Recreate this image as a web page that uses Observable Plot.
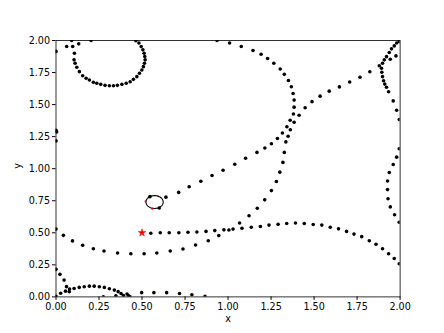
<!DOCTYPE html>
<html>
<head>
<meta charset="utf-8">
<script src="https://cdn.jsdelivr.net/npm/d3@7"></script>
<script src="https://cdn.jsdelivr.net/npm/@observablehq/plot@0.6"></script>
<style>
  html, body { margin: 0; padding: 0; background: #fff; }
  #chart svg { display: block; }
</style>
</head>
<body>
<div id="chart"></div>
<script>
// ---- data ----
const tickValues = [0, 0.25, 0.5, 0.75, 1.0, 1.25, 1.5, 1.75, 2.0];
const xLabel = "x";
const yLabel = "y";

// top-left loop
const loopX = [0.107,0.105,0.111,0.121,0.136,0.155,0.175,0.194,0.217,0.237,0.260,0.285,0.310,0.334,0.357,0.383,0.408,0.431,0.450,0.470,0.485,0.499,0.508,0.514,0.518,0.516,0.512,0.505,0.495,0.482,0.464];
const loopY = [1.901,1.849,1.823,1.791,1.757,1.725,1.705,1.692,1.674,1.666,1.658,1.650,1.647,1.647,1.650,1.658,1.666,1.678,1.697,1.718,1.744,1.770,1.796,1.823,1.849,1.875,1.901,1.927,1.953,1.980,1.998];

// scattered points near the top-left and left edge
const edgeX = [0,0.062,0.097,0.132,0.091,0.204,0,0.004,0];
const edgeY = [1.915,1.953,1.953,1.974,2.0,2.0,1.300,1.286,1.217];

// big arc (right side) continuing to the lower curve
const arcX = [0.936,1.009,1.077,1.145,1.192,1.230,1.266,1.303,1.327,1.351,1.368,1.378,1.384,1.384,1.380,1.384,1.362,1.349,1.336,1.327,1.319,1.301,1.281,1.252,1.213,1.170,1.122,1.067,1.005,0.946,0.885,0.811,0.738,0.664,0.586,0.512,0.435,0.358,0.279,0.217,0.155,0.096,0.043,0];
const arcY = [2.000,1.980,1.953,1.922,1.893,1.860,1.823,1.778,1.736,1.688,1.639,1.587,1.535,1.480,1.427,1.362,1.304,1.253,1.209,1.127,1.049,0.973,0.900,0.829,0.757,0.692,0.633,0.576,0.522,0.478,0.438,0.405,0.374,0.358,0.343,0.336,0.337,0.343,0.358,0.376,0.402,0.437,0.480,0.529];

// diagonal from the small circle to the upper right
const diagX = [0.546,0.600,0.639,0.713,0.774,0.842,0.907,0.971,1.039,1.102,1.168,1.214,1.252,1.287,1.316,1.342,1.361,1.413,1.448,1.488,1.535,1.588,1.647,1.707,1.767,1.824,1.879];
const diagY = [0.782,0.693,0.778,0.815,0.859,0.902,0.947,0.988,1.035,1.082,1.127,1.161,1.195,1.235,1.278,1.327,1.378,1.417,1.476,1.523,1.566,1.605,1.638,1.676,1.713,1.756,1.803];

// line starting at the star going right
const midX = [0.551,0.606,0.658,0.714,0.767,0.819,0.872,0.923,0.976,1.029,1.081,1.135,1.188,1.238,1.291,1.341,1.392,1.443,1.495,1.545,1.594,1.642,1.689,1.732,1.777,1.821,1.860,1.898,1.933,1.966,1.995];
const midY = [0.497,0.500,0.500,0.500,0.504,0.506,0.511,0.517,0.523,0.529,0.536,0.543,0.549,0.560,0.566,0.572,0.576,0.572,0.565,0.560,0.543,0.531,0.511,0.490,0.470,0.438,0.411,0.376,0.337,0.300,0.259];

// right edge curves
const rightX = [1.995,1.980,1.966,1.950,1.937,1.921,1.908,1.898,1.892,1.894,1.898,1.904,1.911,1.921,1.933,1.960,1.980,1.995,1.943,1.976,1.995,1.980,1.960,1.937,1.927,1.927,1.930,1.943,1.968,1.995];
const rightY = [1.992,1.980,1.958,1.935,1.906,1.874,1.849,1.823,1.784,1.752,1.718,1.686,1.660,1.635,1.600,1.529,1.456,1.384,1.854,1.880,1.156,1.090,1.033,0.970,0.904,0.837,0.766,0.702,0.641,0.582];

// bottom-left hump and bottom row
const bottomX = [0,0.023,0.047,0.061,0.077,0,0.027,0.055,0.079,0.105,0.135,0.164,0.194,0.222,0.252,0.281,0.310,0.339,0.361,0.378,0.392,0.413,0.422,0.431,0.348,0.275,0.498,0.569,0.643,0.718,0.790,0.866];
const bottomY = [0.215,0.176,0.131,0.080,0.041,0.005,0.029,0.045,0.062,0.066,0.074,0.079,0.084,0.084,0.079,0.074,0.064,0.053,0.041,0.027,0.011,0.023,0.009,0,0.009,0,0.033,0.033,0.033,0.027,0.017,0.005];

// red points on the small circle, the star, and the circle itself
const redX = [0.521, 0.559];
const redY = [0.745, 0.688];
const starX = [0.5];
const starY = [0.5];
const circleCenter = [0.573, 0.740];
const circleRadius = 0.05;

// ---- build tables ----
const groups = [[loopX, loopY],[edgeX, edgeY],[arcX, arcY],[diagX, diagY],[midX, midY],[rightX, rightY],[bottomX, bottomY]];
const blackPts = groups.flatMap(([xs, ys]) => xs.map((x, i) => ({x, y: ys[i]})));
const redPts = redX.map((x, i) => ({x, y: redY[i]}));
const starPts = starX.map((x, i) => ({x, y: starY[i]}));
const ring = d3.range(0, 65).map(k => {
  const a = (k / 64) * 2 * Math.PI;
  return {x: circleCenter[0] + circleRadius * Math.cos(a), y: circleCenter[1] + circleRadius * Math.sin(a)};
});

const fmt = d3.format(".2f");
const chart = Plot.plot({
  width: 444,
  height: 333,
  marginLeft: 55.5,
  marginRight: 44.4,
  marginTop: 40,
  marginBottom: 36.6,
  style: {fontFamily: "DejaVu Sans, sans-serif", fontSize: "9.6px", color: "black", background: "white"},
  x: {domain: [0, 2], ticks: tickValues, tickFormat: fmt, tickSize: 3.5, tickPadding: 2.5, label: null},
  y: {domain: [0, 2], ticks: tickValues, tickFormat: fmt, tickSize: 3.5, tickPadding: 2.5, label: null},
  marks: [
    Plot.dot(blackPts, {x: "x", y: "y", r: 1.8, fill: "black", stroke: "none", clip: true}),
    Plot.line(ring, {x: "x", y: "y", stroke: "black", strokeWidth: 1.1, curve: "linear"}),
    Plot.dot(redPts, {x: "x", y: "y", r: 1.1, fill: "red", stroke: "none"}),
    Plot.dot(starPts, {x: "x", y: "y", r: 2.4, symbol: "star", fill: "red", stroke: "red", strokeWidth: 0.5}),
    Plot.frame({stroke: "black", strokeWidth: 0.8}),
    Plot.text([xLabel], {text: d => d, frameAnchor: "bottom", dy: 25, fontSize: 9.6, fill: "black"}),
    Plot.text([yLabel], {text: d => d, frameAnchor: "left", dx: -38, rotate: -90, fontSize: 9.6, fill: "black"})
  ]
});
document.getElementById("chart").appendChild(chart);
</script>
</body>
</html>
